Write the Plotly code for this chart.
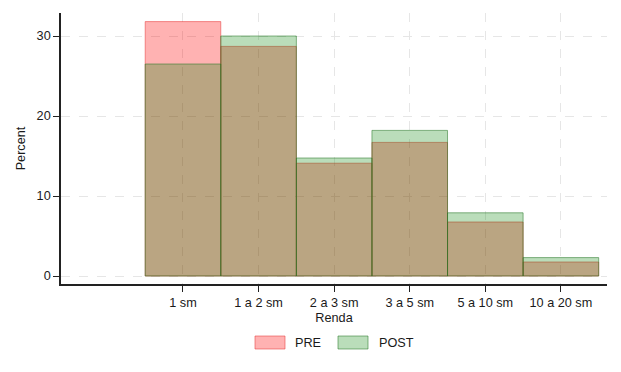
import plotly.graph_objects as go

categories = ["1 sm", "1 a 2 sm", "2 a 3 sm", "3 a 5 sm", "5 a 10 sm", "10 a 20 sm"]
positions = [1, 2, 3, 4, 5, 6]
pre_values = [31.8, 28.7, 14.1, 16.7, 6.75, 1.75]
post_values = [26.5, 30.0, 14.75, 18.2, 7.9, 2.3]
y_ticks = [0, 10, 20, 30]

FONT = "Liberation Sans, Arial, sans-serif"
TXT = "#1a1a1a"

fig = go.Figure()
fig.add_trace(go.Bar(x=positions, y=pre_values, width=1, name="PRE",
                     marker=dict(color="rgba(255,0,0,0.30)",
                                 line=dict(color="rgba(230,60,60,0.55)", width=1))))
fig.add_trace(go.Bar(x=positions, y=post_values, width=1, name="POST",
                     marker=dict(color="rgba(0,128,0,0.27)",
                                 line=dict(color="rgba(40,120,40,0.55)", width=1))))

fig.update_layout(
    barmode="overlay",
    width=621, height=372,
    margin=dict(l=61, r=14, t=13, b=88),
    paper_bgcolor="white", plot_bgcolor="white",
    showlegend=False,
    font=dict(family=FONT, size=12.7, color=TXT),
)
fig.update_xaxes(
    range=[-0.614, 6.61], tickvals=positions, ticktext=categories,
    showline=True, linecolor="#222", linewidth=1.5,
    ticks="outside", ticklen=6, tickcolor="#222", tickwidth=1,
    showgrid=True, gridcolor="#e6e6e6", griddash="dash", gridwidth=1,
    zeroline=False,
    title=dict(text="Renda", standoff=4, font=dict(size=12.7)),
)
fig.update_yaxes(
    range=[-1.0, 32.875], tickvals=y_ticks,
    showline=True, linecolor="#222", linewidth=1.5,
    ticks="outside", ticklen=6, tickcolor="#222", tickwidth=1,
    showgrid=True, gridcolor="#e6e6e6", griddash="dash", gridwidth=1,
    zeroline=False,
    title=dict(text="Percent", standoff=8, font=dict(size=12.7)),
)

# manual legend
legend_items = [("PRE", "rgba(255,0,0,0.30)", "rgba(230,60,60,0.55)", 0.3553, 0.425),
                ("POST", "rgba(0,128,0,0.27)", "rgba(40,120,40,0.55)", 0.5073, 0.5788)]
for name, fill, edge, x0, tx in legend_items:
    fig.add_shape(type="rect", xref="paper", yref="paper",
                  x0=x0, x1=x0 + 0.055, y0=-0.2399, y1=-0.1919,
                  fillcolor=fill, line=dict(color=edge, width=1))
    fig.add_annotation(xref="paper", yref="paper", x=tx, y=-0.2159,
                       text=name, showarrow=False, xanchor="left", yanchor="middle",
                       font=dict(size=12.7, color=TXT))

fig.write_html("out.html")
